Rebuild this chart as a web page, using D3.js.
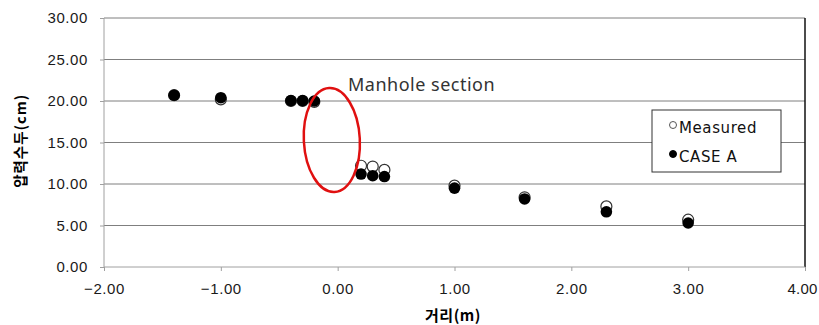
<html>
<head>
<style>
  body { margin: 0; background: #fff; }
  svg { font-family: 'DejaVu Sans', Arial, sans-serif; }
  .grid line { stroke: #7f7f7f; stroke-width: 1; }
  .axis .domain { stroke: #a0a0a0; }
  .axis .tick line { stroke: #a0a0a0; }
  .axis text { font-size: 15px; fill: #1a1a1a; letter-spacing: 0.6px; }
</style>
</head>
<body>
<svg width="819" height="325"></svg>
<script src="https://d3js.org/d3.v7.min.js"></script>
<script>
  // distances (m)
  let distance = [-1.4, -1.0, -0.4, -0.3, -0.2, 0.2, 0.3, 0.4, 1.0, 1.6, 2.3, 3.0]
  let measured = [20.7, 20.2, 20.0, 20.0, 19.9, 12.2, 12.1, 11.7, 9.8, 8.4, 7.3, 5.7]
  let caseA    = [20.7, 20.4, 20.05, 20.05, 20.0, 11.2, 11.0, 10.9, 9.5, 8.2, 6.65, 5.3]
  let xTicks = [-2, -1, 0, 1, 2, 3, 4]
  let yTicks = [0, 5, 10, 15, 20, 25, 30]

  let svg = d3.select("svg")
  let margin = {top: 18, right: 14, bottom: 58, left: 104}
  let width = 819, height = 325

  let x = d3.scaleLinear().domain([-2, 4]).range([margin.left, width - margin.right])
  let y = d3.scaleLinear().domain([0, 30]).range([height - margin.bottom, margin.top])

  // gridlines
  svg.append("g")
    .attr("class", "grid")
    .selectAll("line")
    .data(yTicks.slice(1))
    .join("line")
    .attr("x1", x(-2)).attr("x2", x(4))
    .attr("y1", d => y(d)).attr("y2", d => y(d))

  // right border
  svg.append("line")
    .attr("x1", x(4)).attr("x2", x(4))
    .attr("y1", y(30)).attr("y2", y(0))
    .style("stroke", "#111").style("stroke-width", 1.5)

  let xAxis = svg.append("g")
    .attr("class", "x axis")
    .attr("transform", `translate(0, ${y(0)})`)
    .call(d3.axisBottom(x).tickValues(xTicks).tickSize(4).tickPadding(12)
      .tickFormat(d => d.toFixed(2).replace("-", "\u2212")))

  // last label sits at the right edge, pull it in a bit so it stays visible
  xAxis.selectAll(".tick text").filter(d => d === 4)
    .attr("text-anchor", "end").attr("dx", 12).style("letter-spacing", "0.2px")

  let yAxis = svg.append("g")
    .attr("class", "y axis")
    .attr("transform", `translate(${x(-2)}, 0)`)
    .call(d3.axisLeft(y).tickValues(yTicks).tickSize(4).tickPadding(12)
      .tickFormat(d => d.toFixed(2)))

  svg.selectAll(".axis .domain").attr("d", function () {
    return d3.select(this.parentNode).classed("x")
      ? `M${x(-2)},0H${x(4)}` : `M0,${y(0)}V${y(30)}`
  })

  // axis titles
  svg.append("text")
    .attr("x", 453)
    .attr("y", 321)
    .attr("text-anchor", "middle")
    .style("font-family", "'Noto Sans CJK KR', sans-serif")
    .style("font-weight", "bold")
    .style("font-size", "15px")
    .style("letter-spacing", "0.5px")
    .text("거리(m)")

  svg.append("text")
    .attr("transform", `translate(26, ${y(15.2)}) rotate(-90)`)
    .attr("text-anchor", "middle")
    .style("font-family", "'Noto Sans CJK KR', sans-serif")
    .style("font-weight", "bold")
    .style("font-size", "14.5px")
    .style("letter-spacing", "1px")
    .text("압력수두(cm)")

  // points
  let pts = distance.map((d, i) => ({x: d, m: measured[i], c: caseA[i]}))

  svg.append("g").selectAll("circle")
    .data(pts).join("circle")
    .attr("cx", d => x(d.x)).attr("cy", d => y(d.m)).attr("r", 5.5)
    .style("fill", "#fff").style("stroke", "#333").style("stroke-width", 1.2)

  svg.append("g").selectAll("circle")
    .data(pts).join("circle")
    .attr("cx", d => x(d.x)).attr("cy", d => y(d.c)).attr("r", 5.8)
    .style("fill", "#000")

  // manhole annotation
  svg.append("ellipse")
    .attr("cx", x(-0.05)).attr("cy", y(15.3))
    .attr("rx", 28).attr("ry", 52)
    .attr("transform", `rotate(-3, ${x(-0.05)}, ${y(15.3)})`)
    .style("fill", "none").style("stroke", "#e01010").style("stroke-width", 2.5)

  svg.append("text")
    .attr("x", 348).attr("y", 91)
    .style("font-family", "'Noto Sans', sans-serif")
    .style("font-size", "18px")
    .style("letter-spacing", "0.5px")
    .style("fill", "#333")
    .text("Manhole section")

  // legend
  let lg = svg.append("g").attr("transform", "translate(652, 110)")
  lg.append("rect").attr("width", 129).attr("height", 62)
    .style("fill", "#fff").style("stroke", "#333").style("stroke-width", 1)
  let items = [{label: "Measured", open: true}, {label: "CASE A", open: false}]
  items.forEach((it, i) => {
    let yy = 20 + i * 29
    lg.append("circle").attr("cx", 21).attr("cy", yy - 5).attr("r", 3.5)
      .style("fill", it.open ? "#fff" : "#000").style("stroke", it.open ? "#555" : "#000")
    lg.append("text").attr("x", 27).attr("y", yy + 3)
      .style("font-size", "15px").style("letter-spacing", "0.6px").style("fill", "#111")
      .text(it.label)
  })
</script>
</body>
</html>
